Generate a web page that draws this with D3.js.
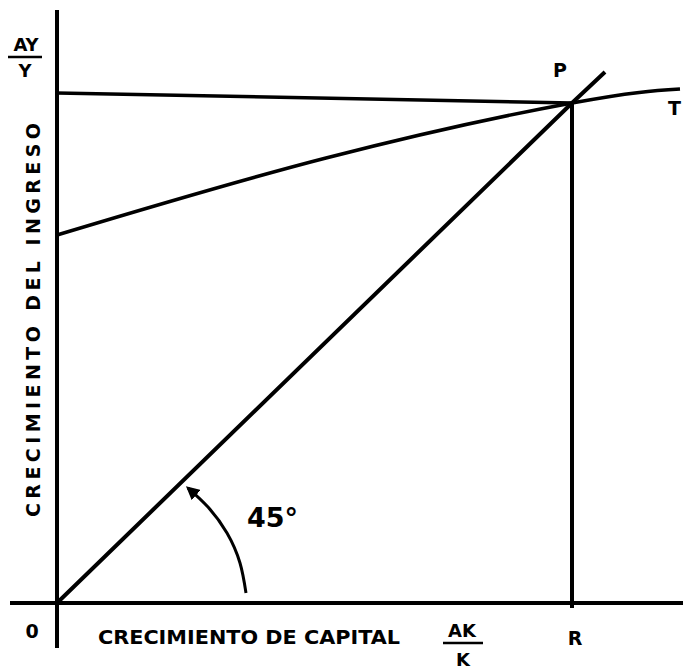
<!DOCTYPE html>
<html>
<head>
<meta charset="utf-8">
<script src="https://cdn.jsdelivr.net/npm/d3@7"></script>
<style>
  html, body { margin: 0; padding: 0; background: #fff; }
  svg { display: block; }
  text { font-family: "DejaVu Sans", sans-serif; font-weight: bold; fill: #000; }
</style>
</head>
<body>
<svg id="chart"></svg>
<script>
// values in drawing units (origin = 0,0)
const curveX = [0, 2.69, 5.15, 6.23];
const curveY = [3.68, 4.45, 5.00, 5.14];
const diagX = [0, 5.15, 5.48];
const diagY = [0, 5.00, 5.31];
const levelX = [0, 5.15];
const levelY = [5.10, 5.00];
const pointP = [5.15, 5.00];
const arrowX = [1.89, 1.83, 1.70, 1.51, 1.31];
const arrowY = [0.10, 0.40, 0.70, 0.96, 1.15];
const yTitle = "CRECIMIENTO DEL INGRESO";
const xTitle = "CRECIMIENTO DE CAPITAL";
const yFrac = ["AY", "Y"];
const xFrac = ["AK", "K"];

let svgWidth = 683, svgHeight = 671;

let x = d3.scaleLinear().domain([-0.47, 6.26]).range([10, 683]),
    y = d3.scaleLinear().domain([-0.45, 5.93]).range([648, 10]);

let svg = d3.select("#chart")
    .attr("width", svgWidth)
    .attr("height", svgHeight);

svg.append("defs").append("marker")
    .attr("id", "head")
    .attr("viewBox", "0 0 10 10")
    .attr("refX", 8)
    .attr("refY", 5)
    .attr("markerWidth", 4.5)
    .attr("markerHeight", 4.5)
    .attr("markerUnits", "strokeWidth")
    .attr("orient", "auto")
    .append("path")
    .attr("d", "M0,0 L10,5 L0,10 Z")
    .attr("fill", "#000");

// axes
svg.append("line")
    .attr("x1", x(-0.47)).attr("x2", x(6.26))
    .attr("y1", y(0)).attr("y2", y(0))
    .attr("stroke", "#000").attr("stroke-width", 4);

svg.append("line")
    .attr("x1", x(0)).attr("x2", x(0))
    .attr("y1", y(-0.45)).attr("y2", y(5.93))
    .attr("stroke", "#000").attr("stroke-width", 4);

let line = d3.line()
    .x(function(d) { return x(d[0]); })
    .y(function(d) { return y(d[1]); });

// horizontal level through P
svg.append("path")
    .datum(d3.zip(levelX, levelY))
    .attr("d", line)
    .attr("fill", "none")
    .attr("stroke", "#000")
    .attr("stroke-width", 3.5);

// 45 degree line
svg.append("path")
    .datum(d3.zip(diagX, diagY))
    .attr("d", line)
    .attr("fill", "none")
    .attr("stroke", "#000")
    .attr("stroke-width", 4);

// curve T
svg.append("path")
    .datum(d3.zip(curveX, curveY))
    .attr("d", d3.line()
        .x(function(d) { return x(d[0]); })
        .y(function(d) { return y(d[1]); })
        .curve(d3.curveNatural))
    .attr("fill", "none")
    .attr("stroke", "#000")
    .attr("stroke-width", 3.5);

// vertical P -> R
svg.append("line")
    .attr("x1", x(pointP[0])).attr("x2", x(pointP[0]))
    .attr("y1", y(pointP[1])).attr("y2", y(-0.05))
    .attr("stroke", "#000").attr("stroke-width", 4);

// 45 deg arrow
svg.append("path")
    .datum(d3.zip(arrowX, arrowY))
    .attr("d", d3.line()
        .x(function(d) { return x(d[0]); })
        .y(function(d) { return y(d[1]); })
        .curve(d3.curveNatural))
    .attr("fill", "none")
    .attr("stroke", "#000")
    .attr("stroke-width", 3)
    .attr("marker-end", "url(#head)");

svg.append("text")
    .attr("x", 247).attr("y", 527)
    .attr("font-size", 27)
    .text("45°");

// y title
svg.append("text")
    .attr("transform", "translate(40,517) rotate(-90)")
    .attr("font-size", 19)
    .attr("textLength", 394)
    .attr("lengthAdjust", "spacing")
    .text(yTitle);

// x title
svg.append("text")
    .attr("x", 98).attr("y", 644)
    .attr("font-size", 19)
    .attr("textLength", 302)
    .attr("lengthAdjust", "spacingAndGlyphs")
    .text(xTitle);

// fraction dY/Y
svg.append("text")
    .attr("x", 26).attr("y", 51)
    .attr("text-anchor", "middle").attr("font-size", 18)
    .text(yFrac[0]);
svg.append("line")
    .attr("x1", 8).attr("x2", 42).attr("y1", 57).attr("y2", 57)
    .attr("stroke", "#000").attr("stroke-width", 2.5);
svg.append("text")
    .attr("x", 25).attr("y", 77)
    .attr("text-anchor", "middle").attr("font-size", 18)
    .text(yFrac[1]);

// fraction dK/K
svg.append("text")
    .attr("x", 462).attr("y", 637)
    .attr("text-anchor", "middle").attr("font-size", 18)
    .text(xFrac[0]);
svg.append("line")
    .attr("x1", 443).attr("x2", 483).attr("y1", 643).attr("y2", 643)
    .attr("stroke", "#000").attr("stroke-width", 2.5);
svg.append("text")
    .attr("x", 463).attr("y", 666)
    .attr("text-anchor", "middle").attr("font-size", 18)
    .text(xFrac[1]);

// point labels
svg.append("text")
    .attr("x", 32).attr("y", 638)
    .attr("text-anchor", "middle").attr("font-size", 19)
    .text("0");
svg.append("text")
    .attr("x", x(pointP[0]) + 3).attr("y", 645)
    .attr("text-anchor", "middle").attr("font-size", 19)
    .text("R");
svg.append("text")
    .attr("x", x(pointP[0]) - 12).attr("y", 77)
    .attr("text-anchor", "middle").attr("font-size", 19)
    .text("P");
svg.append("text")
    .attr("x", 668).attr("y", 115)
    .attr("font-size", 19)
    .text("T");
</script>
</body>
</html>
